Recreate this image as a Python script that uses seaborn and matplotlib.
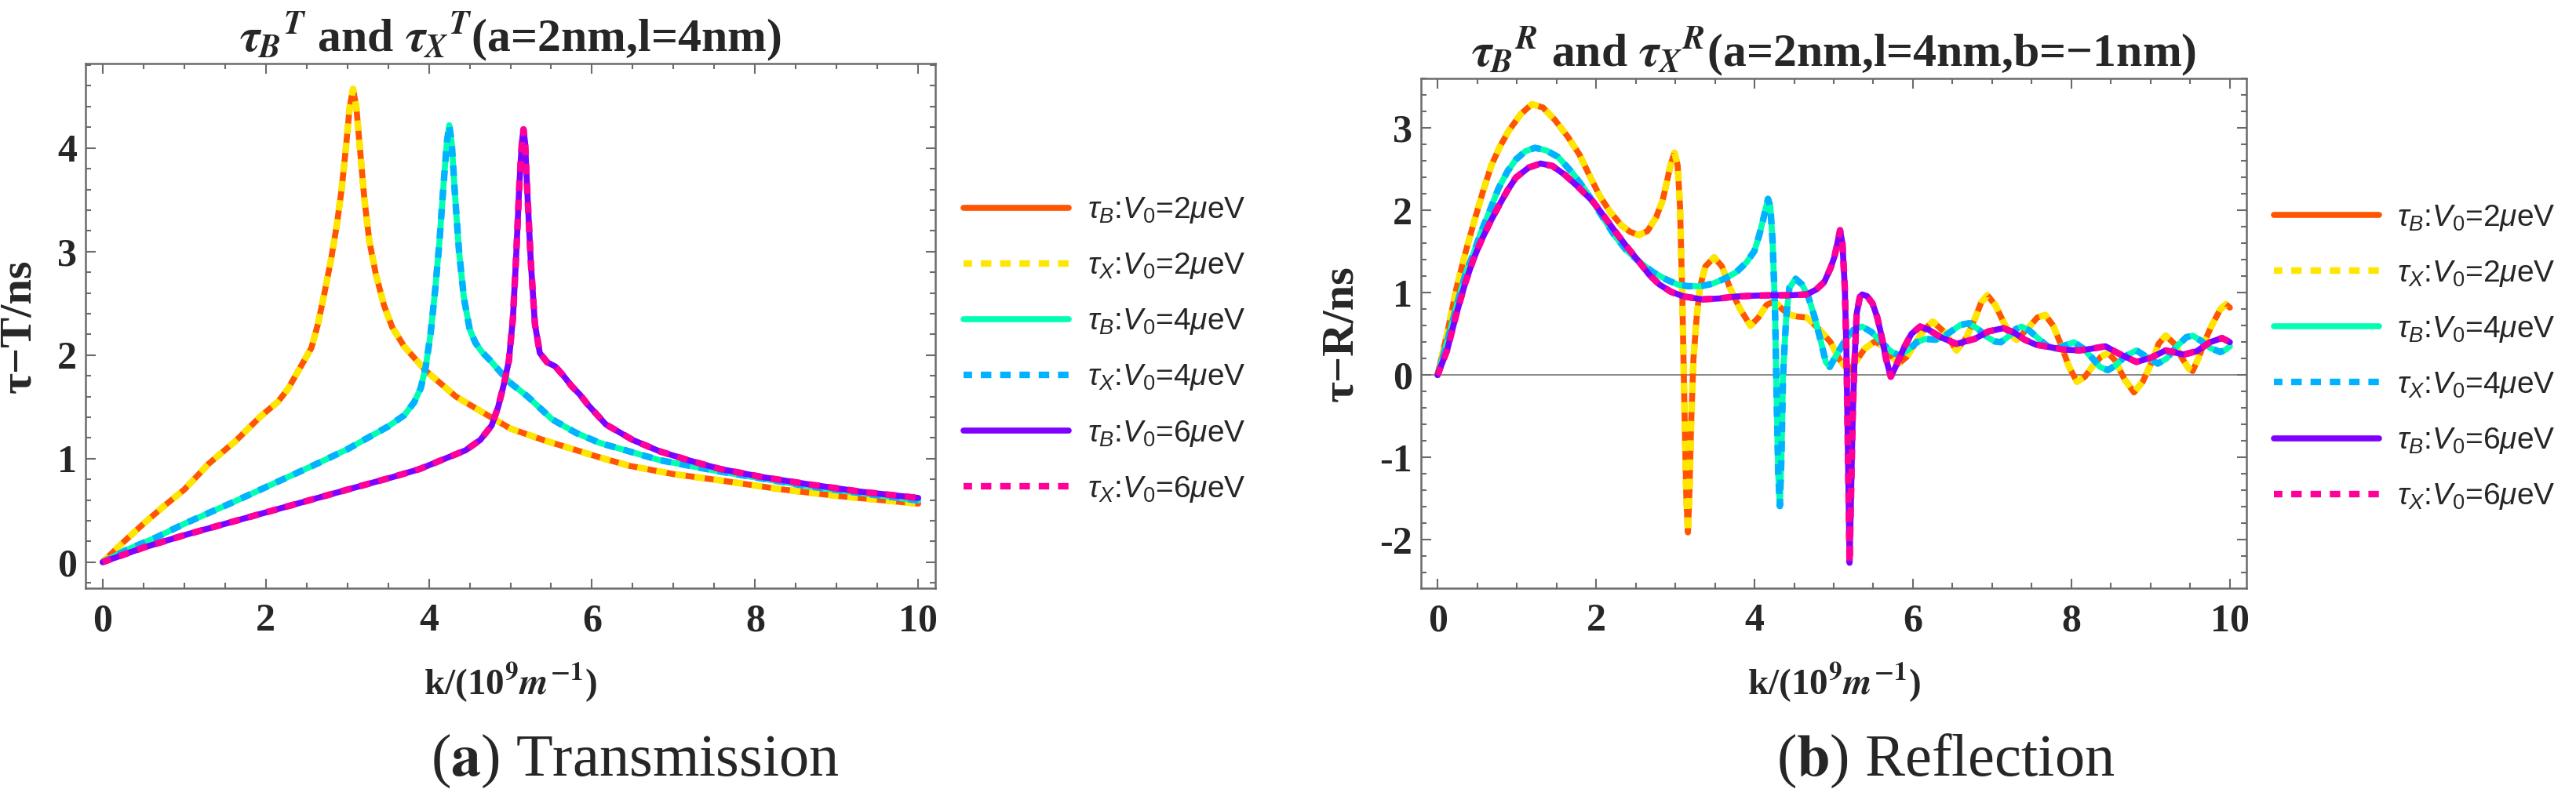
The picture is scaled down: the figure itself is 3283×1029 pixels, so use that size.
import matplotlib
matplotlib.use('Agg')
import matplotlib.pyplot as plt
from matplotlib.ticker import MultipleLocator
from matplotlib.font_manager import FontProperties
import seaborn as sns

# values; tau_B and tau_X coincide, so one list feeds both curves
V0_values = [2, 4, 6]
colors_B = ['#FF5500', '#00FFB2', '#8000FF']
colors_X = ['#FFE600', '#00B2FF', '#FF0099']

# ---- (a) transmission ----
kT2 = [0, 0.25, 0.5, 0.75, 1.0, 1.3, 1.63, 1.94, 2.15, 2.27, 2.43, 2.56, 2.64, 2.72, 2.80,
       2.87, 2.93, 2.98, 3.03, 3.07, 3.11, 3.16, 3.21, 3.27, 3.35, 3.45, 3.55, 3.70, 3.96, 4.33,
       4.63, 5.0, 5.4, 5.73, 6.1, 6.46, 7.0, 7.57, 8.3, 9.0, 10.0]
tauT2 = [0, 0.19, 0.37, 0.54, 0.70, 0.95, 1.17, 1.41, 1.55, 1.67, 1.89, 2.07, 2.30, 2.60, 2.92,
         3.25, 3.60, 3.98, 4.40, 4.57, 4.40, 3.95, 3.50, 3.10, 2.78, 2.48, 2.27, 2.08, 1.85, 1.60,
         1.46, 1.29, 1.18, 1.10, 1.01, 0.93, 0.85, 0.79, 0.705, 0.64, 0.565]

kT4 = [0, 0.3, 0.66, 1.0, 1.63, 2.1, 2.6, 3.0, 3.5, 3.7, 3.82, 3.9, 3.96, 4.02, 4.08, 4.13, 4.18,
       4.22, 4.25, 4.28, 4.32, 4.37, 4.43, 4.50, 4.57, 4.65, 4.75, 4.85, 5.0, 5.21, 5.51, 5.8,
       6.1, 6.5, 6.83, 7.57, 8.67, 10.0]
tauT4 = [0, 0.12, 0.24, 0.37, 0.59, 0.76, 0.94, 1.09, 1.31, 1.42, 1.545, 1.68, 1.88, 2.20, 2.65,
         3.10, 3.65, 4.05, 4.22, 4.05, 3.55, 3.00, 2.55, 2.25, 2.12, 2.03, 1.95, 1.86, 1.73, 1.60,
         1.38, 1.25, 1.15, 1.06, 0.985, 0.875, 0.73, 0.595]

kT6 = [0, 0.5, 1.0, 1.5, 2.0, 2.5, 3.0, 3.55, 3.89, 4.2, 4.45, 4.63, 4.77, 4.85, 4.92, 4.98,
       5.03, 5.07, 5.11, 5.14, 5.16, 5.18, 5.21, 5.25, 5.30, 5.36, 5.45, 5.55, 5.65, 5.75, 5.85,
       5.95, 6.17, 6.5, 6.83, 7.2, 7.57, 8.1, 8.67, 9.3, 10.0]
tauT6 = [0, 0.14, 0.26, 0.37, 0.48, 0.59, 0.70, 0.82, 0.90, 1.00, 1.08, 1.18, 1.32, 1.50, 1.72,
         1.94, 2.35, 2.95, 3.66, 4.05, 4.18, 4.05, 3.53, 2.90, 2.30, 2.02, 1.93, 1.89, 1.80, 1.70,
         1.62, 1.52, 1.33, 1.18, 1.07, 0.98, 0.90, 0.82, 0.75, 0.68, 0.62]

# ---- (b) reflection ----
kR2 = [0, 0.12, 0.24, 0.35, 0.46, 0.57, 0.68, 0.79, 0.90, 1.05,
       1.19, 1.33, 1.48, 1.64, 1.79, 1.92, 2.05, 2.18, 2.32, 2.43,
       2.54, 2.65, 2.76, 2.84, 2.89, 2.94, 2.99, 3.03, 3.06, 3.09,
       3.12, 3.14, 3.16, 3.18, 3.20, 3.23, 3.27, 3.31, 3.38, 3.49,
       3.59, 3.69, 3.82, 3.95, 4.05, 4.15, 4.25, 4.35, 4.45, 4.55,
       4.66, 4.75, 4.85, 4.96, 5.08, 5.19, 5.29, 5.39, 5.52, 5.62,
       5.72, 5.82, 5.92, 6.02, 6.14, 6.25, 6.40, 6.55, 6.67, 6.78,
       6.86, 6.94, 7.04, 7.14, 7.22, 7.31, 7.47, 7.57, 7.67, 7.77,
       7.87, 7.97, 8.07, 8.17, 8.27, 8.37, 8.46, 8.55, 8.67, 8.79,
       8.90, 9.02, 9.10, 9.19, 9.30, 9.40, 9.48, 9.53, 9.60, 9.70,
       9.78, 9.88, 9.95, 10.0]
tauR2 = [0, 0.50, 1.06, 1.48, 1.86, 2.22, 2.55, 2.78, 2.97, 3.17,
         3.29, 3.25, 3.10, 2.90, 2.68, 2.42, 2.17, 1.98, 1.82, 1.74,
         1.70, 1.75, 1.92, 2.12, 2.33, 2.55, 2.70, 2.55, 2.05, 0.90,
         -0.60, -1.50, -1.91, -1.40, -0.60, 0.20, 0.70, 1.06, 1.32, 1.43,
         1.32, 1.06, 0.80, 0.60, 0.70, 0.85, 0.90, 0.80, 0.73, 0.71,
         0.70, 0.62, 0.52, 0.40, 0.18, 0.05, 0.18, 0.32, 0.41, 0.35,
         0.24, 0.14, 0.22, 0.37, 0.55, 0.65, 0.52, 0.30, 0.45, 0.68,
         0.88, 0.97, 0.85, 0.65, 0.50, 0.43, 0.59, 0.70, 0.73, 0.60,
         0.365, 0.10, -0.08, -0.02, 0.11, 0.22, 0.27, 0.18, -0.05, -0.21,
         -0.08, 0.17, 0.38, 0.48, 0.38, 0.20, 0.08, 0.05, 0.20, 0.45,
         0.62, 0.80, 0.86, 0.82]

kR4 = [0, 0.12, 0.24, 0.35, 0.45, 0.55, 0.66, 0.77, 0.88, 0.99,
       1.11, 1.23, 1.37, 1.52, 1.70, 1.87, 2.05, 2.23, 2.38, 2.54,
       2.72, 2.89, 3.03, 3.16, 3.32, 3.47, 3.62, 3.77, 3.90, 4.00,
       4.06, 4.11, 4.17, 4.20, 4.23, 4.26, 4.28, 4.30, 4.32, 4.34,
       4.36, 4.40, 4.44, 4.52, 4.60, 4.68, 4.76, 4.84, 4.90, 4.95,
       5.02, 5.13, 5.25, 5.36, 5.48, 5.60, 5.72, 5.82, 5.93, 6.05,
       6.16, 6.28, 6.38, 6.48, 6.60, 6.71, 6.82, 6.94, 7.03, 7.11,
       7.22, 7.30, 7.37, 7.47, 7.60, 7.70, 7.80, 7.92, 8.03, 8.14,
       8.26, 8.36, 8.46, 8.56, 8.68, 8.82, 8.95, 9.09, 9.20, 9.33,
       9.45, 9.53, 9.63, 9.75, 9.88, 9.95, 10.0]
tauR4 = [0, 0.40, 0.84, 1.22, 1.47, 1.74, 2.00, 2.27, 2.47, 2.62,
         2.72, 2.76, 2.73, 2.65, 2.46, 2.24, 1.97, 1.70, 1.52, 1.38,
         1.25, 1.16, 1.10, 1.08, 1.08, 1.11, 1.17, 1.25, 1.37, 1.51,
         1.70, 1.89, 2.14, 2.05, 1.60, 0.75, -0.30, -1.20, -1.59, -1.00,
         0.00, 0.70, 1.06, 1.17, 1.10, 0.95, 0.70, 0.40, 0.16, 0.10,
         0.22, 0.40, 0.55, 0.59, 0.52, 0.40, 0.29, 0.24, 0.30, 0.40,
         0.44, 0.43, 0.46, 0.53, 0.61, 0.63, 0.56, 0.46, 0.41, 0.40,
         0.48, 0.56, 0.59, 0.54, 0.43, 0.35, 0.32, 0.36, 0.40, 0.33,
         0.21, 0.10, 0.06, 0.12, 0.23, 0.30, 0.22, 0.14, 0.20, 0.35,
         0.46, 0.48, 0.42, 0.33, 0.28, 0.31, 0.35]

kR6 = [0, 0.12, 0.24, 0.35, 0.45, 0.55, 0.66, 0.77, 0.88, 0.99,
       1.15, 1.30, 1.45, 1.61, 1.78, 1.96, 2.10, 2.23, 2.38, 2.54,
       2.67, 2.80, 2.95, 3.11, 3.34, 3.55, 3.77, 4.00, 4.22, 4.45,
       4.66, 4.78, 4.88, 4.96, 5.01, 5.05, 5.08, 5.11, 5.14, 5.16,
       5.18, 5.20, 5.22, 5.24, 5.26, 5.29, 5.33, 5.36, 5.42, 5.49,
       5.55, 5.60, 5.66, 5.72, 5.78, 5.89, 5.98, 6.09, 6.20, 6.35,
       6.55, 6.78, 6.95, 7.14, 7.27, 7.41, 7.55, 7.67, 7.90, 8.10,
       8.25, 8.43, 8.60, 8.82, 9.00, 9.19, 9.42, 9.58, 9.75, 9.90,
       10.0]
tauR6 = [0, 0.30, 0.75, 1.12, 1.40, 1.63, 1.85, 2.05, 2.24, 2.40,
         2.52, 2.57, 2.54, 2.43, 2.28, 2.11, 1.93, 1.76, 1.57, 1.38,
         1.22, 1.10, 1.01, 0.955, 0.92, 0.93, 0.955, 0.965, 0.97, 0.97,
         0.98, 1.04, 1.13, 1.30, 1.44, 1.62, 1.76, 1.60, 1.06, 0.30,
         -1.00, -2.28, -1.40, -0.50, 0.11, 0.75, 0.95, 0.98, 0.96, 0.87,
         0.70, 0.49, 0.20, -0.02, 0.10, 0.34, 0.50, 0.59, 0.55, 0.46,
         0.38, 0.44, 0.53, 0.57, 0.52, 0.43, 0.37, 0.35, 0.31, 0.30,
         0.32, 0.35, 0.26, 0.16, 0.21, 0.30, 0.25, 0.29, 0.40, 0.45,
         0.40]

trans_curves = [(kT2, tauT2), (kT4, tauT4), (kT6, tauT6)]
refl_curves = [(kR2, tauR2), (kR4, tauR4), (kR6, tauR6)]

sns.set_style('ticks')
plt.rcParams['font.family'] = ['Liberation Serif', 'DejaVu Serif']
plt.rcParams['font.weight'] = 'bold'
plt.rcParams['axes.unicode_minus'] = False
plt.rcParams['mathtext.fontset'] = 'custom'
plt.rcParams['mathtext.rm'] = 'Liberation Sans:weight=normal'
plt.rcParams['mathtext.it'] = 'Liberation Sans:style=italic:weight=normal'
plt.rcParams['mathtext.bf'] = 'Liberation Sans:weight=bold'

frame_col = '#6b6b6b'
legend_font = FontProperties(family='Liberation Sans', size=28, weight='normal',
                             math_fontfamily='custom')

fig = plt.figure(figsize=(32.83, 10.29), dpi=100)
ax1 = fig.add_axes([0.0332, 0.2711, 0.3299, 0.6502])
ax2 = fig.add_axes([0.5516, 0.2711, 0.3205, 0.6317])


def draw_panel(ax, curves, title, ylabel, ylim, legend_anchor):
    for i, (k, tau) in enumerate(curves):
        v = V0_values[i]
        sns.lineplot(x=k, y=tau, ax=ax, color=colors_B[i], linewidth=5.5, sort=False,
                     estimator=None, errorbar=None,
                     label=r'$\tau_B$:$V_0$=%d$\mu$eV' % v)
        sns.lineplot(x=k, y=tau, ax=ax, color=colors_X[i], linewidth=6.0, sort=False,
                     estimator=None, errorbar=None, linestyle=(0.3, (1.6, 1.35)),
                     label=r'$\tau_X$:$V_0$=%d$\mu$eV' % v)
    ax.set_xlim(-0.21, 10.21)
    ax.set_ylim(*ylim)
    ax.xaxis.set_major_locator(MultipleLocator(2))
    ax.xaxis.set_minor_locator(MultipleLocator(0.5))
    ax.yaxis.set_major_locator(MultipleLocator(1))
    ax.yaxis.set_minor_locator(MultipleLocator(0.2))
    ax.tick_params(which='both', direction='in', top=True, right=True,
                   color=frame_col, width=1.5, labelsize=36)
    ax.tick_params(which='major', length=9)
    ax.tick_params(which='minor', length=5)
    ax.tick_params(axis='x', pad=14)
    ax.tick_params(axis='y', pad=8)
    for sp in ax.spines.values():
        sp.set_color(frame_col)
        sp.set_linewidth(1.8)
    ax.set_title(title, fontsize=43, fontweight='bold', pad=5, math_fontfamily='stix')
    ax.set_xlabel(r'k/(10$^9$$m^{-1}$)', fontsize=34, fontweight='bold', labelpad=20,
                  math_fontfamily='stix')
    ax.set_ylabel(ylabel, fontsize=42, fontweight='bold', labelpad=16)
    ax.legend(loc='center left', bbox_to_anchor=legend_anchor, bbox_transform=fig.transFigure,
              frameon=False, prop=legend_font, handlelength=3.45, handletextpad=0.6,
              labelspacing=0.85, borderpad=0, borderaxespad=0)


draw_panel(ax1, trans_curves, r'$\tau_B{}^T$ and $\tau_X{}^T$(a=2nm,l=4nm)',
           'τ−T/ns', (-0.252, 4.816), (0.3741, 0.5666))
draw_panel(ax2, refl_curves, r'$\tau_B{}^R$ and $\tau_X{}^R$(a=2nm,l=4nm,b=−1nm)',
           'τ−R/ns', (-2.588, 3.603), (0.8827, 0.5573))
ax2.axhline(0, color='#808080', linewidth=1.3, zorder=0.5)

fig.text(0.2464, 0.0573, r'($\mathbf{a}$) Transmission', fontsize=55, fontweight='normal',
         ha='center', va='center', math_fontfamily='stix')
fig.text(0.7554, 0.0573, r'($\mathbf{b}$) Reflection', fontsize=55, fontweight='normal',
         ha='center', va='center', math_fontfamily='stix')

fig.savefig('out.png', dpi=100)
